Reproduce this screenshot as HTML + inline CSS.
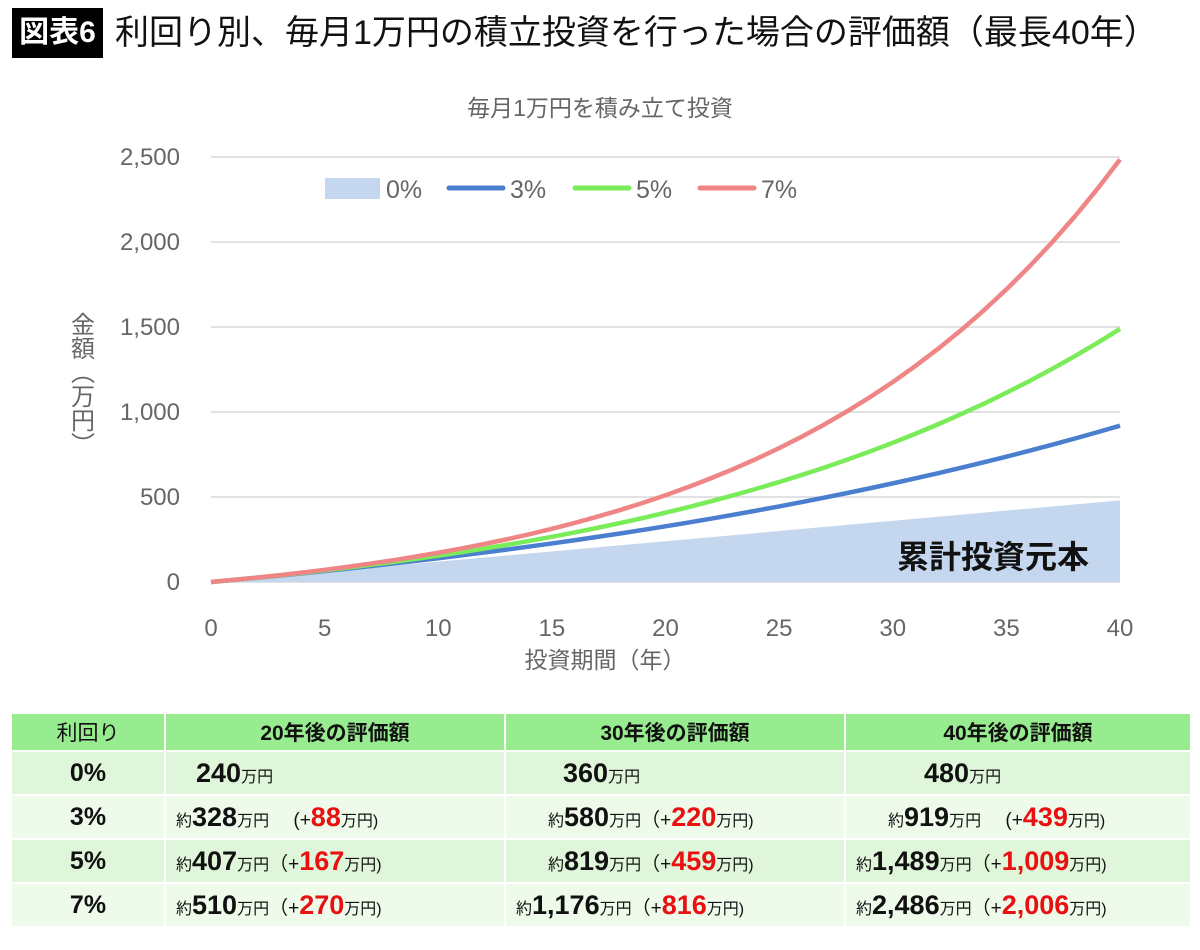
<!DOCTYPE html>
<html><head><meta charset="utf-8">
<style>
body{margin:0;width:1200px;height:950px;background:#fff;font-family:"Liberation Sans","Noto Sans CJK JP",sans-serif;position:relative;overflow:hidden}
.abs{position:absolute}
table{position:absolute;left:10px;top:712px;border-collapse:separate;border-spacing:2px 2px;width:1182px;table-layout:fixed}
td{padding:0;height:42px;font-size:19px;color:#111;white-space:nowrap}
.h td{background:#98ec90;text-align:center;font-weight:bold;height:36px;font-size:21px}
.h td:first-child{font-weight:normal}
td.r{text-align:center;font-weight:bold;font-size:25px}
b{font-size:27px}
.red{color:#e81010}
small{font-size:16px}
</style></head><body>
<div class="abs" style="left:12px;top:8px;width:91px;height:50px;background:#000;color:#fff;font-size:30px;font-weight:bold;line-height:50px;text-align:center">図表6</div>
<div class="abs" style="left:115px;top:8px;font-size:34px;line-height:50px;color:#111;white-space:nowrap">利回り別、毎月1万円の積立投資を行った場合の評価額（最長40年）</div>
<svg class="abs" style="left:0;top:0" width="1200" height="700" id="chart"></svg>
<table>
<colgroup><col style="width:152px"><col style="width:338px"><col style="width:338px"><col></colgroup>
<tr class="h"><td>利回り</td><td>20年後の評価額</td><td>30年後の評価額</td><td>40年後の評価額</td></tr>
<tr><td class="r" style="background:#e0f6da">0%</td><td style="background:#e0f6da;padding-left:30px"><b>240</b><small>万円</small></td><td style="background:#e0f6da;padding-left:57px"><b>360</b><small>万円</small></td><td style="background:#e0f6da;padding-left:78px"><b>480</b><small>万円</small></td></tr>
<tr><td class="r" style="background:#eefaea">3%</td><td style="background:#eefaea;padding-left:10px"><small>約</small><b>328</b><small>万円</small>　 (+<b class="red">88</b><small>万円)</small></td><td style="background:#eefaea;padding-left:42px"><small>約</small><b>580</b><small>万円</small>（+<b class="red">220</b><small>万円)</small></td><td style="background:#eefaea;padding-left:42px"><small>約</small><b>919</b><small>万円</small>　 (+<b class="red">439</b><small>万円)</small></td></tr>
<tr><td class="r" style="background:#e0f6da">5%</td><td style="background:#e0f6da;padding-left:10px"><small>約</small><b>407</b><small>万円</small>（+<b class="red">167</b><small>万円)</small></td><td style="background:#e0f6da;padding-left:42px"><small>約</small><b>819</b><small>万円</small>（+<b class="red">459</b><small>万円)</small></td><td style="background:#e0f6da;padding-left:10px"><small>約</small><b>1,489</b><small>万円</small>（+<b class="red">1,009</b><small>万円)</small></td></tr>
<tr><td class="r" style="background:#eefaea">7%</td><td style="background:#eefaea;padding-left:10px"><small>約</small><b>510</b><small>万円</small>（+<b class="red">270</b><small>万円)</small></td><td style="background:#eefaea;padding-left:10px"><small>約</small><b>1,176</b><small>万円</small>（+<b class="red">816</b><small>万円)</small></td><td style="background:#eefaea;padding-left:10px"><small>約</small><b>2,486</b><small>万円</small>（+<b class="red">2,006</b><small>万円)</small></td></tr>
</table>
<script>
const years=[0,1,2,3,4,5,6,7,8,9,10,11,12,13,14,15,16,17,18,19,20,21,22,23,24,25,26,27,28,29,30,31,32,33,34,35,36,37,38,39,40];
const principalYears=[0,40];
const principal=[0,480];
const r3=[0,12.2,24.8,37.7,51.0,64.7,78.9,93.5,108.5,123.9,139.8,156.2,173.1,190.5,208.4,226.8,245.8,265.4,285.5,306.3,327.7,349.7,372.4,395.8,419.9,444.7,470.2,496.5,523.6,551.5,580.2,609.8,640.3,671.7,704.1,737.4,771.6,807.0,843.4,880.9,919.5];
const r5=[0,12.3,25.3,38.9,53.1,68.1,83.8,100.3,117.7,135.9,155.0,175.1,196.2,218.3,241.5,265.9,291.5,318.4,346.7,376.4,407.5,440.2,474.6,510.6,548.4,588.2,629.9,673.7,719.7,768.0,818.8,872.0,928.0,986.8,1048.4,1113.2,1181.1,1252.5,1327.4,1406.1,1488.7];
const r7=[0,12.5,25.8,39.9,55.3,71.6,89.1,107.8,127.7,149.1,172.0,196.5,222.7,250.7,280.7,312.9,347.2,384.0,423.3,465.4,510.4,558.6,610.2,665.3,724.4,787.4,855.0,927.3,1004.7,1087.5,1176.0,1270.9,1372.3,1480.8,1596.9,1721.1,1854.0,1996.3,2148.4,2311.2,2485.5];
const yTicks=[0,500,1000,1500,2000,2500];
const xTicks=[0,5,10,15,20,25,30,35,40];
const NS="http://www.w3.org/2000/svg";
const svg=document.getElementById('chart');
const X=v=>211+v/40*909, Y=v=>582-v/2500*425;
function el(t,a,p){const e=document.createElementNS(NS,t);for(const k in a)e.setAttribute(k,a[k]);(p||svg).appendChild(e);return e;}
function txt(x,y,s,a){const e=el('text',Object.assign({x:x,y:y,fill:'#666','font-size':24},a||{}));e.textContent=s;return e;}
yTicks.forEach(v=>{
 const g=el('line',{x1:211,x2:1120,y1:Y(v),y2:Y(v),stroke:'#d9d9d9','stroke-width':1.5});
 
 
 const t=txt(180,Y(v)+8,v.toLocaleString('en-US'),{'text-anchor':'end'});
 
 
});
xTicks.forEach(v=>{
 const t=txt(X(v),636,String(v),{'text-anchor':'middle'});
 
 
});
let d='M'+X(principalYears[0])+','+Y(0);
principalYears.forEach((y,i)=>d+='L'+X(y)+','+Y(principal[i]));
d+='L'+X(principalYears[principalYears.length-1])+','+Y(0)+'Z';
const area=el('path',{d:d,fill:'#c5d7ee'});


function poly(vals){return years.map((y,i)=>(i?'L':'M')+X(y)+','+Y(vals[i])).join('');}
[[r3,'#4a7fcf','line-3pct'],[r5,'#7aec5a','line-5pct'],[r7,'#ef8585','line-7pct']].forEach(([v,c,n])=>{
 const l=el('path',{d:poly(v),fill:'none',stroke:c,'stroke-width':4.5,'stroke-linejoin':'round'});
 
 
});
const ct=txt(600,116,'毎月1万円を積み立て投資',{'text-anchor':'middle','font-size':23});


const xt=txt(605,668,'投資期間（年）',{'text-anchor':'middle','font-size':23});


const yt=txt(80,312,'金額（万円）',{'font-size':24,'writing-mode':'vertical-rl','text-anchor':'start'});


const pl=txt(993,568,'累計投資元本',{'text-anchor':'middle','font-size':32,'font-weight':'bold',fill:'#111'});


const lg=el('rect',{x:325,y:178,width:55,height:21,fill:'#c5d7ee'});


txt(386,198,'0%',{'font-size':25});
[[449,'#4a7fcf','3%'],[575,'#7aec5a','5%'],[700,'#ef8585','7%']].forEach(([x,c,s])=>{
 const l=el('line',{x1:x,x2:x+54,y1:188,y2:188,stroke:c,'stroke-width':5,'stroke-linecap':'round'});
 
 
 txt(x+61,198,s,{'font-size':25});
});
</script>
</body></html>
